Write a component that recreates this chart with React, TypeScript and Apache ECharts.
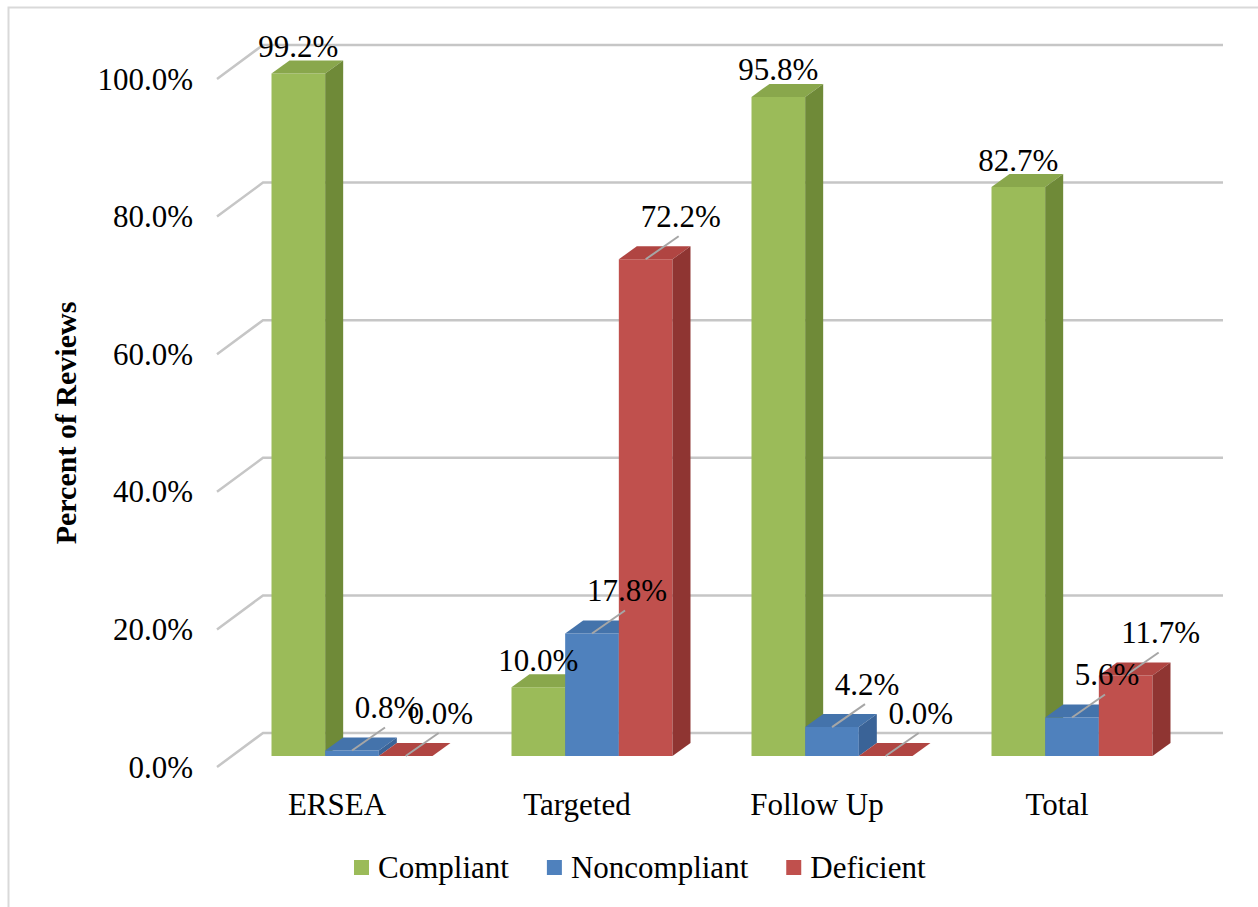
import React, { useEffect, useRef } from 'react';
import * as echarts from 'echarts';

const FONT = "'Liberation Serif', 'Times New Roman', serif";
const LABEL_FONT = 'Liberation Serif';

const categories = ['ERSEA', 'Targeted', 'Follow Up', 'Total'];
const seriesNames = ['Compliant', 'Noncompliant', 'Deficient'];
const compliant = [99.2, 10.0, 95.8, 82.7];
const noncompliant = [0.8, 17.8, 4.2, 5.6];
const deficient = [0.0, 72.2, 0.0, 11.7];
const yTicks = [0, 20, 40, 60, 80, 100];

const palette = [
  { front: '#9bbb59', top: '#89a74c', side: '#6f8a38' },
  { front: '#4f81bd', top: '#4473ab', side: '#3a6397' },
  { front: '#c0504d', top: '#b04542', side: '#8f3532' },
];

// 3D geometry (pixels)
const WALL_DX = 46;
const WALL_DY = -34;
const BAR_FX = 15;
const BAR_FY = -11;
const BAR_DX = 18;
const BAR_DY = -13;
const BAR_FRAC = 0.2236;

function labelStyle(text: string) {
  return {
    text,
    fontSize: 31,
    fontFamily: LABEL_FONT,
    fill: '#000',
    align: 'center',
    verticalAlign: 'middle',
  };
}

function makeBarSeries(name: string, values: number[], k: number) {
  const c = palette[k];
  return {
    name,
    type: 'custom',
    z: 2,
    itemStyle: { color: c.front },
    encode: { x: 0, y: 1 },
    data: values.map((v, i) => [i, v]),
    renderItem: (params: any, api: any) => {
      const ci = api.value(0) as number;
      const v = api.value(1) as number;
      const base = api.coord([ci, 0]);
      const topP = api.coord([ci, v]);
      const band = api.size([1, 0])[0];
      const bw = band * BAR_FRAC;
      const x0 = base[0] - 1.5 * bw + k * bw + BAR_FX;
      const x1 = x0 + bw;
      const yb = base[1] + BAR_FY;
      const yt = topP[1] + BAR_FY;
      const zb = k * 10;
      const children: any[] = [
        {
          type: 'polygon',
          z2: zb,
          shape: { points: [[x0, yt], [x1, yt], [x1, yb], [x0, yb]] },
          style: { fill: c.front },
        },
        {
          type: 'polygon',
          z2: zb + 1,
          shape: { points: [[x0, yt], [x0 + BAR_DX, yt + BAR_DY], [x1 + BAR_DX, yt + BAR_DY], [x1, yt]] },
          style: { fill: c.top },
        },
        {
          type: 'polygon',
          z2: zb + 1,
          shape: { points: [[x1, yt], [x1 + BAR_DX, yt + BAR_DY], [x1 + BAR_DX, yb + BAR_DY], [x1, yb]] },
          style: { fill: c.side },
        },
      ];
      const cx = (x0 + x1) / 2;
      const label = v.toFixed(1) + '%';
      if (k === 0) {
        children.push({
          type: 'text',
          z2: 100,
          x: cx,
          y: yt - 27,
          style: labelStyle(label),
        });
      } else {
        children.push({
          type: 'line',
          z2: 99,
          shape: { x1: cx, y1: yt, x2: cx + 33, y2: yt - 23 },
          style: { stroke: '#a6a6a6', lineWidth: 2 },
        });
        children.push({
          type: 'text',
          z2: 100,
          x: cx + 35,
          y: yt - 43,
          style: labelStyle(label),
        });
      }
      return { type: 'group', children };
    },
  };
}

const gridSeries = {
  name: 'grid3d',
  type: 'custom',
  z: 1,
  silent: true,
  encode: { x: 0, y: 1 },
  data: yTicks.map((t) => [0, t]),
  renderItem: (params: any, api: any) => {
    const cs = params.coordSys;
    const y = api.coord([0, api.value(1)])[1];
    const xl = cs.x;
    const xr = cs.x + cs.width;
    return {
      type: 'polyline',
      shape: { points: [[xl, y], [xl + WALL_DX, y + WALL_DY], [xr + WALL_DX, y + WALL_DY]] },
      style: { stroke: '#c6c6c6', lineWidth: 2.5, fill: 'none' },
    };
  },
};

const option: any = {
  animation: false,
  backgroundColor: '#ffffff',
  graphic: [
    {
      type: 'rect',
      left: 6,
      top: 5,
      shape: { x: 0, y: 0, width: 1300, height: 1000 },
      style: { fill: 'none', stroke: '#d9d9d9', lineWidth: 2 },
      silent: true,
    },
  ],
  grid: { left: 217, right: 81, top: 79, bottom: 140 },
  legend: {
    data: seriesNames,
    left: 349,
    top: 847,
    icon: 'rect',
    itemWidth: 15,
    itemHeight: 15,
    itemGap: 38,
    textStyle: { fontSize: 31, fontFamily: FONT, color: '#000', padding: [0, 0, 0, 4] },
  },
  xAxis: {
    type: 'category',
    data: categories,
    axisLine: { show: false },
    axisTick: { show: false },
    splitLine: { show: false },
    axisLabel: { fontSize: 31, fontFamily: FONT, color: '#000', margin: 22 },
  },
  yAxis: {
    type: 'value',
    min: 0,
    max: 100,
    interval: 20,
    axisLine: { show: false },
    axisTick: { show: false },
    splitLine: { show: false },
    axisLabel: {
      fontSize: 31,
      fontFamily: FONT,
      color: '#000',
      margin: 24,
      formatter: (v: number) => v.toFixed(1) + '%',
    },
    name: 'Percent of Reviews',
    nameLocation: 'middle',
    nameGap: 137,
    nameRotate: 90,
    nameTextStyle: { fontSize: 30, fontWeight: 'bold', fontFamily: FONT, color: '#000' },
  },
  series: [
    gridSeries,
    makeBarSeries(seriesNames[0], compliant, 0),
    makeBarSeries(seriesNames[1], noncompliant, 1),
    makeBarSeries(seriesNames[2], deficient, 2),
  ],
};

export default function App() {
  const ref = useRef<HTMLDivElement>(null);
  useEffect(() => {
    const chart = echarts.init(ref.current as HTMLDivElement, null, { renderer: 'svg' });
    chart.setOption(option);
    return () => chart.dispose();
  }, []);
  return (
    <div
      ref={ref}
      style={{ position: 'absolute', left: 0, top: 0, width: 1258, height: 907, background: '#fff' }}
    />
  );
}
